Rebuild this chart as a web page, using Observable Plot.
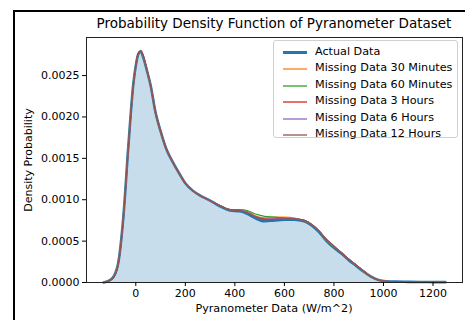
<!DOCTYPE html>
<html>
<head>
<meta charset="utf-8">
<script src="https://cdn.jsdelivr.net/npm/d3@7"></script>
<script src="https://cdn.jsdelivr.net/npm/@observablehq/plot@0.6"></script>
<style>
  html, body { margin: 0; padding: 0; background: #fff; }
  body { font-family: "DejaVu Sans", sans-serif; }
  #wrap { position: relative; width: 465px; height: 320px; overflow: hidden; font-family: "DejaVu Sans", sans-serif; }
  #frameL { position: absolute; left: 13px; top: 10px; width: 2px; height: 320px; background: #000; }
  #frameT { position: absolute; left: 13px; top: 10px; width: 460px; height: 2px; background: #000; }
  #title { position: absolute; left: 66px; width: 416px; top: 15px; text-align: center; font-size: 13.5px; color: #000; white-space: nowrap; }
  #xlabel { position: absolute; left: 86px; width: 376px; top: 302px; text-align: center; font-size: 11.2px; color: #000; }
  #ylabel { position: absolute; left: 28px; top: 160px; transform: translate(-50%, -50%) rotate(-90deg); white-space: nowrap; font-size: 11px; color: #000; }
  #legend { position: absolute; left: 273px; top: 40px; width: 185px; height: 98px; border: 1px solid #d0d0d0; border-radius: 3px; background: rgba(255,255,255,0.85); box-sizing: border-box; }
  .row { position: absolute; left: 0; height: 14px; font-family: "DejaVu Sans", sans-serif; font-size: 11.2px; line-height: 14px; color: #000; }
  .row .sw { position: absolute; left: 9px; width: 24px; }
  .row .tx { position: absolute; left: 41px; top: 0; white-space: nowrap; }
  svg { position: absolute; left: 0; top: 0; }
</style>
</head>
<body>
<div id="wrap">
  <div id="chart"></div>
  <div id="frameL"></div>
  <div id="frameT"></div>
  <div id="title">Probability Density Function of Pyranometer Dataset</div>
  <div id="xlabel">Pyranometer Data (W/m^2)</div>
  <div id="ylabel">Density Probability</div>
  <div id="legend"></div>
</div>
<script>
// x grid (W/m^2)
const xs = [-130,-110,-90,-70,-50,-30,-10,0,10,20,30,45,60,80,100,125,150,175,200,230,260,300,340,380,420,450,480,520,560,600,640,680,710,740,770,800,830,860,890,920,950,980,1010,1050,1100,1150,1200,1250];

// density estimates
const actual   = [0.00000,0.00002,0.00007,0.00025,0.00080,0.00165,0.00240,0.00262,0.00276,0.00279,0.00272,0.00256,0.00238,0.00205,0.00183,0.00160,0.00145,0.00132,0.00120,0.00111,0.00105,0.00099,0.00092,0.00087,0.00086,0.00083,0.00078,0.00074,0.00075,0.00076,0.00076,0.00074,0.00069,0.00061,0.00050,0.00042,0.00035,0.00027,0.00020,0.00013,0.00007,0.00003,0.000015,0.00001,0.000008,0.000006,0.000005,0.000004];
const miss30m  = [0.00000,0.00002,0.00007,0.00025,0.00080,0.00165,0.00240,0.00263,0.00277,0.00280,0.00273,0.00256,0.00237,0.00204,0.00182,0.00160,0.00145,0.00132,0.00120,0.00111,0.00105,0.00099,0.00093,0.00088,0.00087,0.00086,0.00081,0.00078,0.00079,0.00079,0.00078,0.00075,0.00070,0.00062,0.00051,0.00043,0.00036,0.00028,0.00021,0.00013,0.00007,0.00003,0.000015,0.00001,0.000008,0.000006,0.000005,0.000004];
const miss60m  = [0.00000,0.00002,0.00007,0.00025,0.00080,0.00165,0.00240,0.00263,0.00277,0.00280,0.00273,0.00256,0.00237,0.00204,0.00182,0.00160,0.00145,0.00132,0.00120,0.00111,0.00105,0.00099,0.00093,0.00088,0.00088,0.00087,0.00083,0.00080,0.00079,0.00078,0.00077,0.00075,0.00070,0.00062,0.00051,0.00043,0.00036,0.00028,0.00021,0.00013,0.00007,0.00003,0.000015,0.00001,0.000008,0.000006,0.000005,0.000004];
const miss3h   = [0.00000,0.00002,0.00006,0.00024,0.00078,0.00163,0.00238,0.00262,0.00277,0.00280,0.00274,0.00257,0.00238,0.00205,0.00183,0.00160,0.00145,0.00132,0.00120,0.00111,0.00105,0.00099,0.00093,0.00088,0.00087,0.00085,0.00080,0.00077,0.00077,0.00077,0.00077,0.00075,0.00070,0.00062,0.00052,0.00044,0.00036,0.00028,0.00021,0.00014,0.00007,0.00003,0.000015,0.00001,0.000008,0.000006,0.000005,0.000004];
const miss6h   = [0.00000,0.00002,0.00006,0.00024,0.00078,0.00163,0.00238,0.00262,0.00277,0.00280,0.00274,0.00257,0.00238,0.00205,0.00183,0.00160,0.00145,0.00132,0.00120,0.00111,0.00105,0.00099,0.00093,0.00088,0.00087,0.00085,0.00080,0.00076,0.00077,0.00077,0.00077,0.00075,0.00070,0.00062,0.00052,0.00044,0.00036,0.00028,0.00021,0.00014,0.00007,0.00003,0.000015,0.00001,0.000008,0.000006,0.000005,0.000004];
const miss12h  = [0.00000,0.00002,0.00006,0.00024,0.00078,0.00163,0.00238,0.00262,0.00277,0.00280,0.00274,0.00257,0.00238,0.00205,0.00183,0.00160,0.00145,0.00132,0.00120,0.00111,0.00105,0.00099,0.00093,0.00088,0.00087,0.00084,0.00080,0.00076,0.00076,0.00077,0.00077,0.00075,0.00070,0.00062,0.00052,0.00044,0.00036,0.00028,0.00021,0.00014,0.00007,0.00003,0.000015,0.00001,0.000008,0.000006,0.000005,0.000004];

const seriesNames = ["Actual Data","Missing Data 30 Minutes","Missing Data 60 Minutes","Missing Data 3 Hours","Missing Data 6 Hours","Missing Data 12 Hours"];
const seriesColors = ["#1f77b4","#ff7f0e","#2ca02c","#d62728","#9467bd","#8c564b"];
const seriesValues = [actual, miss30m, miss60m, miss3h, miss6h, miss12h];

const xTicks = [0,200,400,600,800,1000,1200];
const yTicks = [0,0.0005,0.001,0.0015,0.002,0.0025];

const tables = seriesValues.map((vals, i) => xs.map((x, j) => ({x, y: vals[j], s: seriesNames[i]})));

const curve = "monotone-x";
const marks = [
  Plot.areaY(tables[0], {x: "x", y: "y", fill: seriesColors[0], fillOpacity: 0.25, curve}),
  Plot.line(tables[0], {x: "x", y: "y", stroke: seriesColors[0], strokeWidth: 2.6, curve})
];
for (let i = 1; i < tables.length; i++) {
  marks.push(Plot.line(tables[i], {x: "x", y: "y", stroke: seriesColors[i], strokeWidth: 1.2, curve}));
}
marks.push(Plot.frame({stroke: "#222", strokeWidth: 1}));
marks.push(Plot.axisX({ticks: xTicks, tickSize: 4, tickPadding: 3, label: null, fontSize: 11, tickFormat: d3.format("d")}));
marks.push(Plot.axisY({ticks: yTicks, tickSize: 4, tickPadding: 3, label: null, fontSize: 11, tickFormat: d3.format(".4f")}));

const chart = Plot.plot({
  width: 465,
  height: 320,
  marginLeft: 86,
  marginRight: 3,
  marginTop: 37,
  marginBottom: 38,
  style: {fontFamily: "DejaVu Sans, sans-serif", fontSize: "11px", color: "#000", background: "transparent"},
  x: {domain: [-199, 1319]},
  y: {domain: [0, 0.00296]},
  marks
});
document.getElementById("chart").appendChild(chart);

const legend = document.getElementById("legend");
seriesNames.forEach((name, i) => {
  const row = document.createElement("div");
  row.className = "row";
  row.style.top = Math.round(4 + i * 16.4) + "px";
  row.style.width = "182px";
  const sw = document.createElement("div");
  sw.className = "sw";
  const w = i === 0 ? 3 : 2;
  sw.style.height = w + "px";
  sw.style.top = (i === 0 ? 6 : 7) + "px";
  sw.style.background = seriesColors[i];
  sw.style.opacity = i === 0 ? 1 : 0.65;
  const tx = document.createElement("div");
  tx.className = "tx";
  tx.textContent = name;
  row.appendChild(sw);
  row.appendChild(tx);
  legend.appendChild(row);
});
</script>
</body>
</html>
